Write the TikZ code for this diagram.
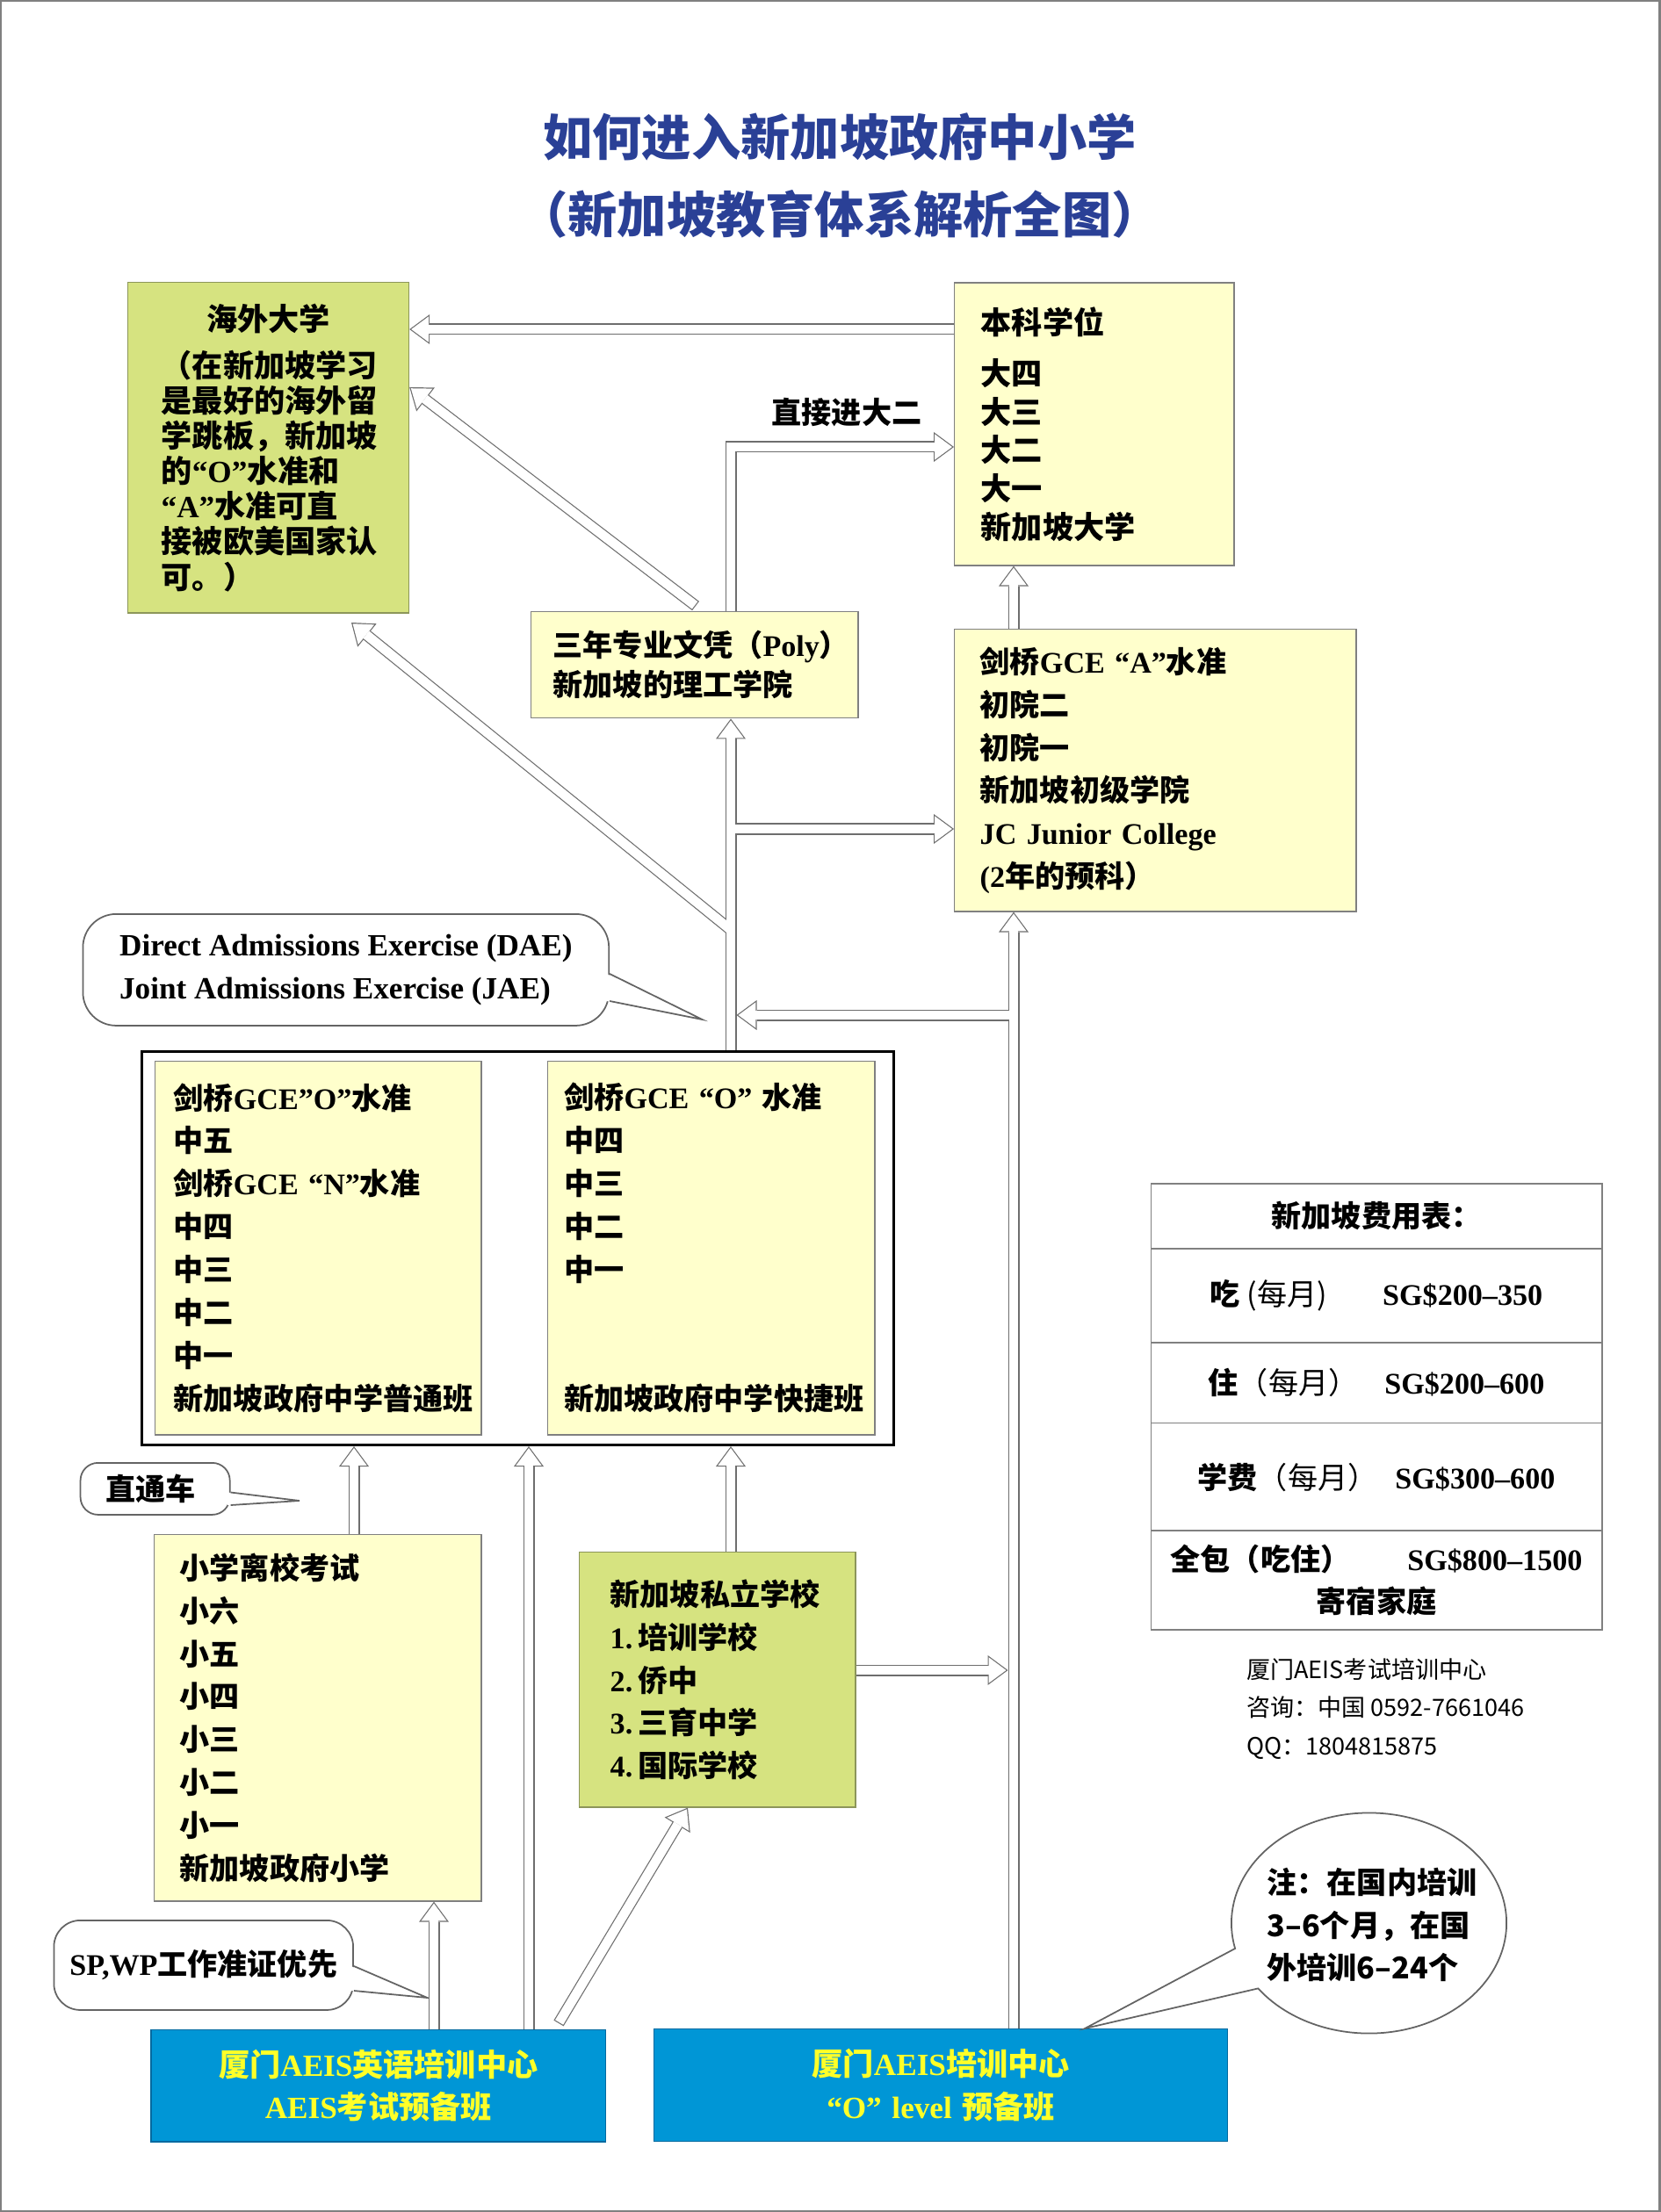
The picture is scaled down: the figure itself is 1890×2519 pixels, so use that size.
\documentclass[tikz,border=0pt]{standalone}
\usepackage{fontspec}
\setmainfont{Noto Sans CJK SC}
\newfontfamily\en{Liberation Serif}
\usetikzlibrary{arrows.meta, positioning, shapes.callouts, calc}
\definecolor{titleblue}{RGB}{42,64,150}
\definecolor{boxyellow}{RGB}{255,255,204}
\definecolor{boxgreen}{RGB}{214,227,128}
\definecolor{boxblue}{RGB}{0,150,214}
\definecolor{edgeblue}{RGB}{0,105,160}
\definecolor{aeisyellow}{RGB}{255,255,40}
\definecolor{edgegray}{RGB}{128,128,128}
\definecolor{edgegreen}{RGB}{140,150,90}
\definecolor{arrowgray}{RGB}{110,110,110}
\definecolor{bubgray}{RGB}{100,100,100}
\tikzset{
  basebox/.style={rectangle,anchor=north west,align=left,inner ysep=0pt,line width=0.4pt,draw=edgegray,font=\fontsize{9.7pt}{13.9pt}\selectfont\bfseries},
  ybox/.style={basebox,fill=boxyellow},
  gbox/.style={basebox,fill=boxgreen,draw=edgegreen},
  bbox/.style={basebox,fill=boxblue,draw=edgeblue,text=aeisyellow,align=center,inner xsep=0pt,font=\fontsize{10pt}{13.7pt}\selectfont\bfseries},
  secframe/.style={rectangle,anchor=north west,draw=black,line width=0.9pt,inner sep=0pt},
  bubble/.style={rectangle,anchor=north west,draw=bubgray,fill=white,line width=0.5pt,inner ysep=0pt,align=left,font=\fontsize{9.7pt}{13.9pt}\selectfont\bfseries},
  bubedge/.style={draw=bubgray,line width=0.5pt,line join=miter},
  feerow/.style={rectangle,draw=edgegray,line width=0.5pt,minimum width=5.13cm,outer sep=0pt,inner ysep=0pt,align=center,font=\fontsize{9.7pt}{13.7pt}\selectfont\bfseries},
  plaintext/.style={inner sep=0pt,font=\fontsize{9.7pt}{13.9pt}\selectfont\bfseries},
  titletext/.style={inner sep=0pt,align=center,text=titleblue,font=\fontsize{16pt}{25pt}\selectfont\bfseries},
  contact/.style={inner sep=0pt,align=left,font=\fontsize{7.7pt}{12.5pt}\selectfont},
  hol/.style={draw=\hc,line width=\hw,line join=miter,-{Triangle[length=\hl,width=\hb,line width=0pt]},shorten >=\hs},
  closed/.style={shorten <=\hk}
}
\begin{document}
\begin{tikzpicture}[x=0.01cm,y=-0.01cm]
  \useasboundingbox (0,0) rectangle (1890,2519);
  \draw[edgegray,line width=0.04cm] (0,0) rectangle (1890,2519);

  %% title
  \node[titletext] (title) at (956,200) {如何进入新加坡政府中小学\\（新加坡教育体系解析全图）};

  %% universities and colleges
  \node[gbox,minimum width=3.2cm,minimum height=3.76cm,text width=2.432cm,inner xsep=0.384cm,font=\fontsize{10pt}{11.4pt}\selectfont\bfseries] (haiwai) at (144.6,321)
    {\hspace*{\fill}海外大学\hspace*{\fill}\null\\[0.13cm]（在新加坡学习\\是最好的海外留\\学跳板，新加坡\\的{\en “O”}水准和\\{\en “A”}水准可直\\接被欧美国家认\\可。）};
  \node[ybox,minimum width=3.18cm,minimum height=3.215cm,text width=2.58cm,inner xsep=0.3cm,font=\fontsize{10pt}{12.4pt}\selectfont\bfseries] (ben) at (1086,321.5)
    {本科学位\\[0.145cm]大四\\大三\\大二\\大一\\新加坡大学};
  \node[ybox,minimum width=3.72cm,minimum height=1.21cm,text width=3.22cm,inner xsep=0.25cm,font=\fontsize{9.7pt}{12.8pt}\selectfont\bfseries] (poly) at (604,696)
    {三年专业文凭（{\en Poly}）\\新加坡的理工学院};
  \node[ybox,minimum width=4.57cm,minimum height=3.21cm,text width=3.99cm,inner xsep=0.29cm] (jc) at (1086,716)
    {剑桥{\en GCE “A”}水准\\初院二\\初院一\\新加坡初级学院\\{\en JC Junior College}\\{\en (2}年的预科）};
  \node[plaintext] (zhijie) at (964,470) {直接进大二};

  %% callouts
  \node[bubble,rounded corners=0.38cm,minimum width=5.985cm,minimum height=1.27cm,inner xsep=0pt,font=\fontsize{10pt}{13.9pt}\selectfont\en\bfseries] (dae) at (93.5,1040)
    {Direct Admissions Exercise (DAE)\\Joint Admissions Exercise (JAE)};
  \node[bubble,rounded corners=0.2cm,minimum width=1.7cm,minimum height=0.59cm,text width=1.12cm,inner xsep=0.29cm] (ztc) at (90.7,1665) {直通车};
  \node[bubble,rounded corners=0.3cm,minimum width=3.405cm,minimum height=1.02cm,text width=3.405cm,inner xsep=0pt,align=center] (sp) at (60.5,2186) {{\en SP,WP}工作准证优先};
  \coordinate (dae1) at (dae.east |- 0,1109);
  \coordinate (dae2) at (dae.east |- 0,1140);
  \coordinate (dae3) at (799.5,1161);
  \coordinate (ztc1) at (ztc.east |- 0,1699.5);
  \coordinate (ztc2) at (ztc.east |- 0,1714);
  \coordinate (ztc3) at (341,1709);
  \coordinate (sp1) at (sp.east |- 0,2239);
  \coordinate (sp2) at (sp.east |- 0,2267);
  \coordinate (sp3) at (486.5,2275);
  \foreach \b in {dae,ztc,sp}{
    \fill[white] ([xshift=-1pt]\b1) -- (\b3) -- ([xshift=-1pt]\b2) -- cycle;
    \draw[bubedge] (\b1) -- (\b3) -- (\b2);
  }

  %% secondary schools
  \node[secframe,minimum width=8.55cm,minimum height=4.476cm] (sec) at (160,1196) {};
  \node[ybox,minimum width=3.71cm,minimum height=4.255cm,text width=3.29cm,inner xsep=0.21cm] (secl) at (176,1207.5)
    {剑桥{\en GCE”O”}水准\\中五\\剑桥{\en GCE “N”}水准\\中四\\中三\\中二\\中一\\新加坡政府中学普通班};
  \node[ybox,minimum width=3.72cm,minimum height=4.255cm,text width=3.348cm,inner xsep=0.186cm] (secr) at (623,1207.5)
    {剑桥{\en GCE “O” }水准\\中四\\中三\\中二\\中一\\[0.985cm]新加坡政府中学快捷班};

  %% primary and private schools
  \node[ybox,minimum width=3.72cm,minimum height=4.17cm,text width=3.14cm,inner xsep=0.29cm] (pri) at (175,1747)
    {小学离校考试\\小六\\小五\\小四\\小三\\小二\\小一\\新加坡政府小学};
  \node[gbox,minimum width=3.14cm,minimum height=2.9cm,text width=2.44cm,inner xsep=0.35cm] (priv) at (659,1767)
    {新加坡私立学校\\{\en 1.}\,培训学校\\{\en 2.}\,侨中\\{\en 3.}\,三育中学\\{\en 4.}\,国际学校};

  %% training centres
  \node[bbox,minimum width=5.17cm,minimum height=1.273cm,text width=5.17cm] (aeis) at (171.4,2310.7)
    {厦门{\en AEIS}英语培训中心\\{\en AEIS}考试预备班};
  \node[bbox,minimum width=6.525cm,minimum height=1.275cm,text width=6.525cm] (olev) at (744,2310)
    {厦门{\en AEIS}培训中心\\{\en “O” level} 预备班};

  %% fee table
  \node[feerow,anchor=north west,minimum height=0.741cm] (fee0) at (1310.4,1347.7) {新加坡费用表：};
  \node[feerow,minimum height=1.072cm,below=0pt of fee0] (fee1) {吃 {\mdseries (每月)}\hspace{0.63cm}{\en SG\$200–350}};
  \node[feerow,minimum height=0.914cm,below=0pt of fee1] (fee2) {住{\mdseries（每月）}\hspace{0.3cm}{\en SG\$200–600}};
  \node[feerow,minimum height=1.226cm,below=0pt of fee2] (fee3) {学费{\mdseries（每月）}\hspace{0.2cm}{\en SG\$300–600}};
  \node[feerow,minimum height=1.127cm,below=0pt of fee3] (fee4) {全包（吃住）\hspace{0.65cm}{\en SG\$800–1500}\\寄宿家庭};

  \node[contact,anchor=west] (info) at (1418.6,1946) {厦门AEIS考试培训中心\\咨询：中国 0592-7661046\\QQ：1804815875};

  %% note bubble
  \coordinate (notetip) at (1235,2310);
  \node[ellipse callout,draw=bubgray,fill=white,line width=0.5pt,minimum width=3.13cm,minimum height=2.51cm,inner sep=0pt,callout absolute pointer=(notetip),callout pointer arc=23] (note) at (1558.5,2190) {};
  \node[plaintext,align=left] (notetext) at (1562,2192) {注：在国内培训\\3–6个月，在国\\外培训6–24个};

  %% hollow arrows, outline pass then inner pass
  \coordinate (cstart) at (792,690);
  \coordinate (jE) at (832,944);
  \coordinate (jF) at (832,1059);
  \coordinate (fTip) at (400,709);
  \coordinate (jG) at (1154,1156);
  \coordinate (gTip) at (838.5,1156);
  \coordinate (iTip) at (1147.5,1902);
  \coordinate (nstart) at (636,2304);
  \foreach \hc/\hw/\hl/\hb/\hs/\hk in {arrowgray/0.13cm/0.23cm/0.34cm/0cm/0cm,white/0.106cm/0.1978cm/0.2924cm/0.0202cm/0.012cm}{
    \draw[hol] (ben.west |- 0,375) -- (haiwai.east |- 0,375);
    \draw[hol] (poly.north -| 832,0) |- (ben.west |- 0,509);
    \draw[hol,closed] (cstart) -- (haiwai.east |- 0,441);
    \draw[hol] (sec.north -| 832,0) -- (poly.south -| 832,0);
    \draw[hol] (jE) -- (jc.west |- 0,944);
    \draw[hol] (jF) -- (fTip);
    \draw[hol] (jG) -- (gTip);
    \draw[hol] (olev.north -| 1154,0) -- (jc.south -| 1154,0);
    \draw[hol] (priv.east |- 0,1902) -- (iTip);
    \draw[hol] (priv.north -| 832,0) -- (sec.south -| 832,0);
    \draw[hol] (pri.north -| 403,0) -- (sec.south -| 403,0);
    \draw[hol] (aeis.north -| 602,0) -- (sec.south -| 602,0);
    \draw[hol] (aeis.north -| 494,0) -- (pri.south -| 494,0);
    \draw[hol,closed] (nstart) -- (priv.south -| 783,0);
    \draw[hol] (jc.north -| 1154,0) -- (ben.south -| 1154,0);
  }
\end{tikzpicture}
\end{document}
